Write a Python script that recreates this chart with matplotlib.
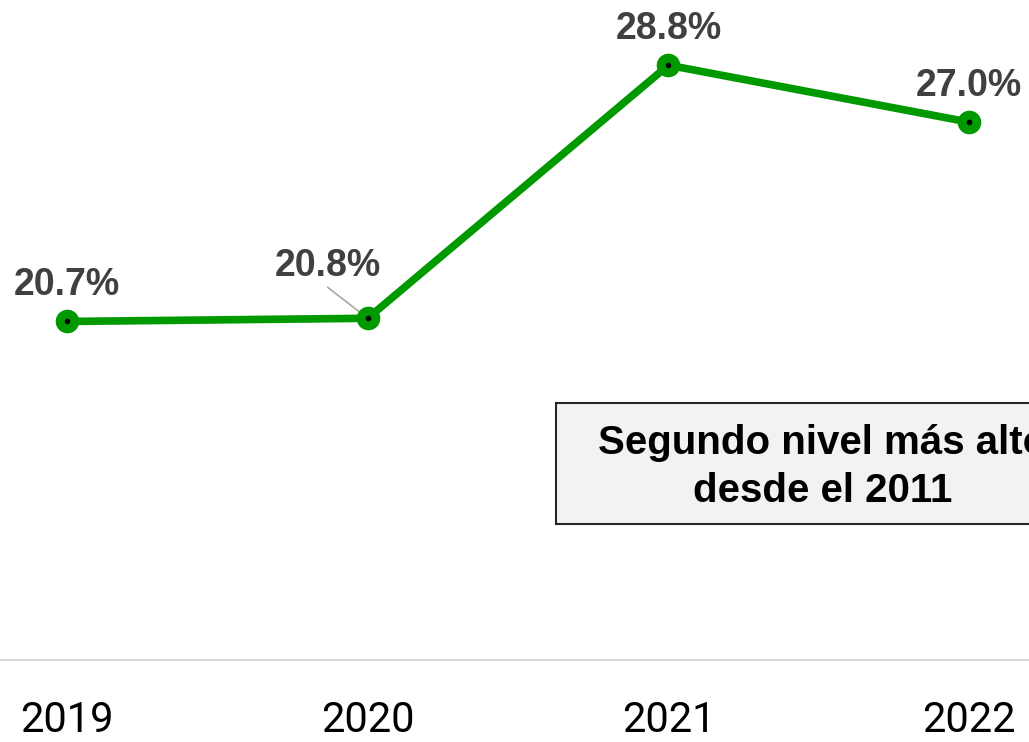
import matplotlib.pyplot as plt
from matplotlib.patches import Rectangle

# datos
years = ['2019', '2020', '2021', '2022']
values = [20.7, 20.8, 28.8, 27.0]
labels = ['20.7%', '20.8%', '28.8%', '27.0%']
note = 'Segundo nivel más alto\ndesde el 2011'

green = '#009900'
x = list(range(len(years)))

fig = plt.figure(figsize=(10.29, 7.42), dpi=100)
ax = fig.add_axes([0, 0.1105, 1, 0.8895])

ax.plot(x, values, color=green, lw=5.5, solid_capstyle='round', zorder=2)
ax.plot(x, values, 'o', color=green, ms=16, zorder=3)
ax.plot(x, values, 'o', color='black', ms=3, zorder=4)

# etiquetas de los puntos
for i, (v, lab) in enumerate(zip(values, labels)):
    if i == 1:
        # etiqueta desplazada con linea guia
        ax.annotate('', xy=(i, v), xytext=(-28.8, 22.3), textcoords='offset points',
                    arrowprops=dict(arrowstyle='-', color='#a6a6a6', lw=1.2,
                                    shrinkA=0, shrinkB=0), zorder=1)
        ax.annotate(lab, xy=(i, v), xytext=(-28.8, 30.2), textcoords='offset points',
                    ha='center', va='baseline', fontsize=27, fontweight='bold',
                    color='#404040', family='Liberation Sans')
    else:
        ax.annotate(lab, xy=(i, v), xytext=(0, 18.7), textcoords='offset points',
                    ha='center', va='baseline', fontsize=27, fontweight='bold',
                    color='#404040', family='Liberation Sans')

ax.set_xlim(-0.2226, 3.199)
ax.set_ylim(10, 30.86)
ax.set_xticks(x)
ax.set_xticklabels(years, fontsize=30, family='Roboto')
ax.set_yticks([])
ax.tick_params(axis='x', length=0, pad=29)
for s in ['top', 'left', 'right']:
    ax.spines[s].set_visible(False)
ax.spines['bottom'].set_color('#d9d9d9')
ax.spines['bottom'].set_linewidth(1.5)

# recuadro de nota (cortado por el borde derecho como en el original)
rect = Rectangle((5.56, 2.18), 5.34, 1.21, transform=fig.dpi_scale_trans,
                 facecolor='#f2f2f2', edgecolor='#262626', lw=1.5)
fig.patches.append(rect)
fig.text(8.23, 2.75, note, transform=fig.dpi_scale_trans, ha='center', va='center',
         fontsize=29, fontweight='bold', color='black', family='Liberation Sans',
         linespacing=1.3)

fig.savefig('out.png', dpi=100)
